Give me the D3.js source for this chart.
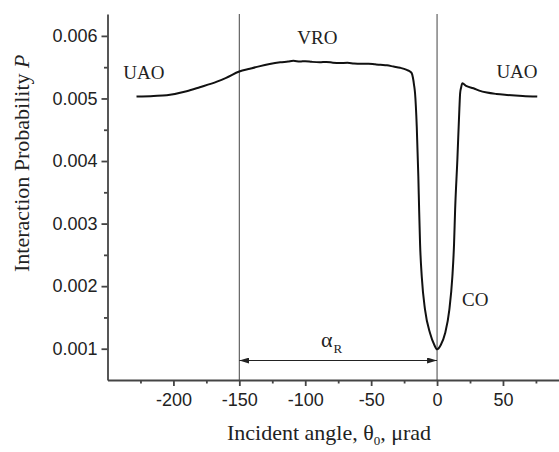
<!DOCTYPE html>
<html>
<head>
<meta charset="utf-8">
<script src="https://cdn.jsdelivr.net/npm/d3@7"></script>
<style>
  html, body { margin: 0; padding: 0; background: #fff; }
  svg { display: block; }
</style>
</head>
<body>
<svg id="chart" width="559" height="452"></svg>
<script>
// ---- data ----
const angles = [-228, -215, -205, -190, -180, -167, -160, -150, -142, -135, -127, -119, -113, -109, -104, -100, -95, -89, -84, -79, -74, -68, -63, -58, -52, -47, -43, -38, -33, -28, -23, -20.5, -19.2, -18.3, -17.45, -16.7, -15.4, -14.2, -13.6, -12.9, -11.6, -9.1, -5.3, -2.05, 0, 2.8, 6.1, 9.3, 11.6, 12.9, 13.7, 15.4, 16.9, 17.5, 18.3, 19.2, 22, 27.6, 32, 37.8, 45, 53, 65, 76];
const probability = [0.005030, 0.005040, 0.005052, 0.005115, 0.005180, 0.005270, 0.005330, 0.005430, 0.005475, 0.005513, 0.005550, 0.005577, 0.005590, 0.005601, 0.005590, 0.005596, 0.005585, 0.005578, 0.005584, 0.005572, 0.005566, 0.005570, 0.005558, 0.005553, 0.005556, 0.005545, 0.005537, 0.005530, 0.005510, 0.005490, 0.005457, 0.005430, 0.005402, 0.005330, 0.005215, 0.005083, 0.004549, 0.003750, 0.003220, 0.002680, 0.002150, 0.001620, 0.001246, 0.001059, 0.000990, 0.001059, 0.001246, 0.001620, 0.002150, 0.002680, 0.003220, 0.004020, 0.004820, 0.005083, 0.005180, 0.005242, 0.005200, 0.005164, 0.005125, 0.005094, 0.005072, 0.005057, 0.005040, 0.005030];
const xMajorTicks = [-200, -150, -100, -50, 0, 50];
const xMinorTicks = [-225, -175, -125, -75, -25, 25, 75];
const yMajorTicks = [0.001, 0.002, 0.003, 0.004, 0.005, 0.006];
const yMinorTicks = [0.0015, 0.0025, 0.0035, 0.0045, 0.0055];
const markerLines = [-150, 0];
const regionLabels = [
  { text: "UAO", x: -238, y: 0.00531 },
  { text: "VRO", x: -106, y: 0.00587 },
  { text: "UAO", x: 45, y: 0.00533 },
  { text: "CO", x: 19, y: 0.00168 }
];

(function () {
// ---- layout ----
const svg = d3.select("#chart");
const mLeft = 107.5, mRight = 559, mTop = 14, mBottom = 380;
const x = d3.scaleLinear().domain([-250, 92.5]).range([mLeft, mRight]);
const y = d3.scaleLinear().domain([0.0005, 0.00635]).range([mBottom, mTop]);
const axisColor = "#444";
const sans = "'Liberation Sans', Arial, sans-serif";
const serif = "'Liberation Serif', 'Times New Roman', serif";

// vertical marker lines
svg.append("g").selectAll("line").data(markerLines).join("line")
  .attr("x1", d => x(d)).attr("x2", d => x(d))
  .attr("y1", mTop).attr("y2", mBottom)
  .attr("stroke", "#555").attr("stroke-width", 1.1);

// axes
function styleAxis(g) {
  g.selectAll("path, line").attr("stroke", axisColor).attr("stroke-width", 1.8);
  g.selectAll("text").attr("fill", "#222").style("font-family", sans).style("font-size", "18px");
}
const xMajor = svg.append("g").attr("transform", `translate(0,${mBottom})`)
  .call(d3.axisBottom(x).tickValues(xMajorTicks).tickSize(6).tickSizeOuter(0).tickPadding(7).tickFormat(d => String(d)));
styleAxis(xMajor);
const xMinor = svg.append("g").attr("transform", `translate(0,${mBottom})`)
  .call(d3.axisBottom(x).tickValues(xMinorTicks).tickSize(3.5).tickSizeOuter(0).tickFormat(""));
styleAxis(xMinor);
xMinor.select("path").remove();

const yMajor = svg.append("g").attr("transform", `translate(${mLeft},0)`)
  .call(d3.axisLeft(y).tickValues(yMajorTicks).tickSize(6).tickSizeOuter(0).tickPadding(4).tickFormat(d3.format(".3f")));
styleAxis(yMajor);
const yMinor = svg.append("g").attr("transform", `translate(${mLeft},0)`)
  .call(d3.axisLeft(y).tickValues(yMinorTicks).tickSize(3.5).tickSizeOuter(0).tickFormat(""));
styleAxis(yMinor);
yMinor.select("path").remove();

// curve
const line = d3.line().x((d, i) => x(angles[i])).y(d => y(d)).curve(d3.curveMonotoneX);
svg.append("path").datum(probability)
  .attr("d", line).attr("fill", "none")
  .attr("stroke", "#111").attr("stroke-width", 2).attr("stroke-linejoin", "round");

// double arrow for alpha_R
const defs = svg.append("defs");
defs.append("marker").attr("id", "ah").attr("viewBox", "0 0 10 6")
  .attr("refX", 10).attr("refY", 3).attr("markerWidth", 10).attr("markerHeight", 6)
  .attr("markerUnits", "userSpaceOnUse").attr("orient", "auto-start-reverse")
  .append("path").attr("d", "M0,0 L10,3 L0,6 Z").attr("fill", "#222");
svg.append("line")
  .attr("x1", x(markerLines[0])).attr("x2", x(markerLines[1]))
  .attr("y1", 360.5).attr("y2", 360.5)
  .attr("stroke", "#222").attr("stroke-width", 1)
  .attr("marker-start", "url(#ah)").attr("marker-end", "url(#ah)");
const alpha = svg.append("text").attr("x", x(-88)).attr("y", 346.5)
  .style("font-family", serif).style("font-size", "22px").attr("fill", "#222");
alpha.append("tspan").text("α");
alpha.append("tspan").attr("dy", 6).attr("dx", 1).style("font-size", "13px").text("R");

// region labels
svg.append("g").selectAll("text").data(regionLabels).join("text")
  .attr("x", d => x(d.x)).attr("y", d => y(d.y))
  .style("font-family", serif).style("font-size", "19px").attr("fill", "#222")
  .text(d => d.text);

// axis titles
const xt = svg.append("text").attr("x", 329).attr("y", 440).attr("text-anchor", "middle")
  .style("font-family", serif).style("font-size", "22px").attr("fill", "#222");
xt.append("tspan").text("Incident angle, θ");
xt.append("tspan").attr("dy", 5).style("font-size", "13px").text("0");
xt.append("tspan").attr("dy", -5).text(", μrad");

const yt = svg.append("text").attr("transform", "translate(29,272) rotate(-90)")
  .style("font-family", serif).style("font-size", "22px").attr("fill", "#222");
yt.append("tspan").text("Interaction Probability ");
yt.append("tspan").style("font-style", "italic").text("P");
})();
</script>
</body>
</html>
